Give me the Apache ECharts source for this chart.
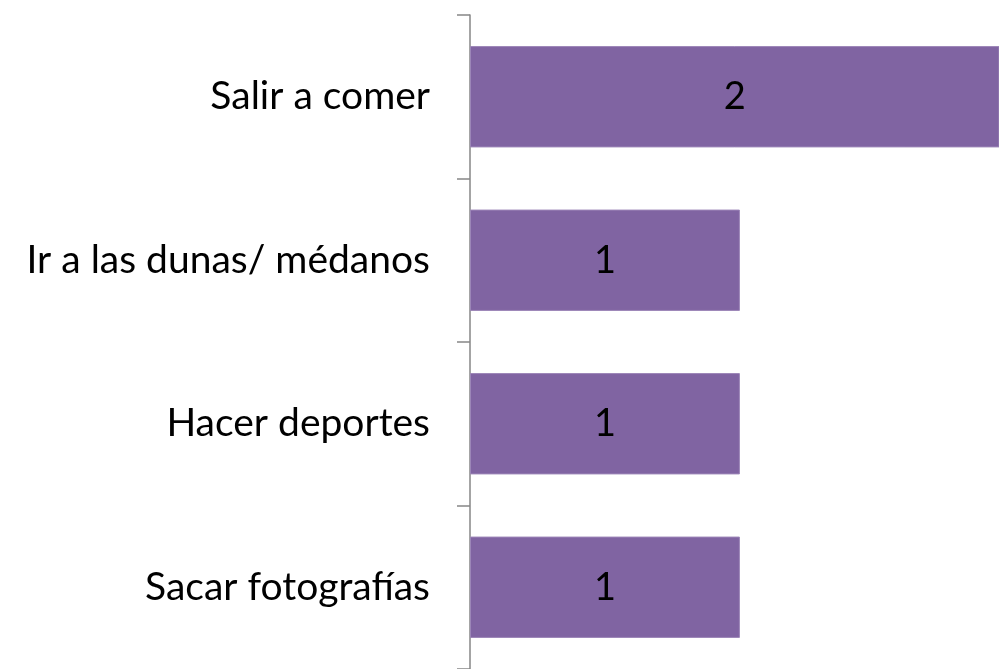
<!DOCTYPE html>
<html>
<head>
<meta charset="utf-8">
<script src="https://cdn.jsdelivr.net/npm/echarts@6/dist/echarts.min.js"></script>
<style>
  html, body { margin: 0; padding: 0; background: #fff; }
  #chart { width: 999px; height: 669px; }
</style>
</head>
<body>
<div id="chart"></div>
<script>
// categories listed bottom to top (echarts draws y category from bottom)
var categories = ['Sacar fotografías', 'Hacer deportes', 'Ir a las dunas/ médanos', 'Salir a comer'];
var values = [1, 1, 1, 2];

var chart = echarts.init(document.getElementById('chart'));
var option = {
  animation: false,
  grid: { left: 470, right: 0, top: 15, bottom: -4 },
  xAxis: {
    type: 'value',
    min: 0,
    max: 1.96, // the original plot is cut off on the right
    show: false
  },
  yAxis: {
    type: 'category',
    data: categories,
    axisLine: { show: true, lineStyle: { color: '#868686', width: 1.5 } },
    axisTick: { show: true, length: 13, lineStyle: { color: '#868686', width: 1.5 } },
    axisLabel: {
      fontFamily: 'Lato',
      fontSize: 39,
      color: '#000',
      margin: 40
    }
  },
  series: [
    {
      type: 'bar',
      data: values,
      barCategoryGap: '38%',
      itemStyle: { color: '#8064A2', borderColor: '#9c86b8', borderWidth: 1 },
      label: {
        show: true,
        position: 'inside',
        fontFamily: 'Lato',
        fontSize: 38,
        color: '#000'
      }
    }
  ]
};
chart.setOption(option);
</script>
</body>
</html>
